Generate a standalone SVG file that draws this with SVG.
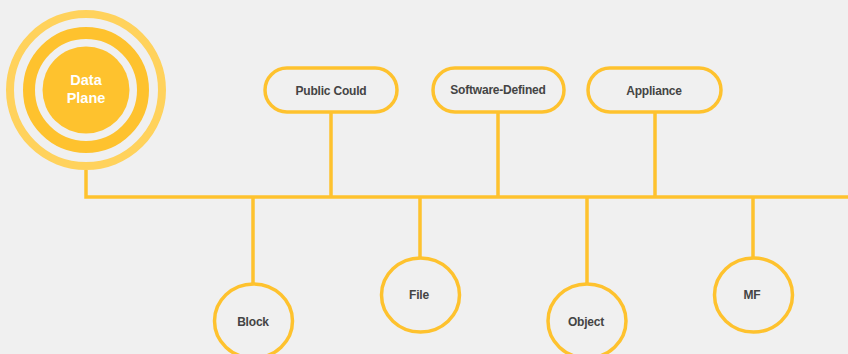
<svg xmlns="http://www.w3.org/2000/svg" width="848" height="354" viewBox="0 0 848 354">
<style>
.ln{stroke:#FEC22E;stroke-width:3.5;fill:none}
.pill{fill:#F0F0F0;stroke:#FEC22E;stroke-width:3.5}
.t{font-family:"Liberation Sans",Arial,sans-serif;font-size:12px;font-weight:700;fill:#444444;text-anchor:middle;letter-spacing:-0.2px}
.w{font-family:"Liberation Sans",Arial,sans-serif;font-size:14.5px;font-weight:700;fill:#FFFFFF;text-anchor:middle}
</style>
<rect width="848" height="354" fill="#F0F0F0"/>
<g id="connectors">
<path class="ln" d="M86 170 V197 H848"/>
<path class="ln" d="M331 112 V197"/>
<path class="ln" d="M498 112 V197"/>
<path class="ln" d="M655 112 V197"/>
<path class="ln" d="M253 197 V283"/>
<path class="ln" d="M420 197 V257"/>
<path class="ln" d="M587 197 V283"/>
<path class="ln" d="M753 197 V257"/>
</g>
<g id="data-plane">
<circle cx="86" cy="90" r="76" fill="none" stroke="#FFD25C" stroke-width="8"/>
<circle cx="86" cy="90" r="57" fill="none" stroke="#FEC22E" stroke-width="12"/>
<circle cx="86" cy="90" r="43.5" fill="#FEC22E"/>
<text class="w" x="86" y="85">Data</text>
<text class="w" x="86" y="103">Plane</text>
</g>
<g id="public-could">
<rect class="pill" x="265" y="68" width="132" height="44" rx="22"/>
<text class="t" x="331" y="95">Public Could</text>
</g>
<g id="software-defined">
<rect class="pill" x="433" y="68" width="131" height="44" rx="22"/>
<text class="t" x="498" y="94">Software-Defined</text>
</g>
<g id="appliance">
<rect class="pill" x="588" y="68" width="133" height="44" rx="22"/>
<text class="t" x="654" y="95">Appliance</text>
</g>
<g id="block">
<ellipse class="pill" cx="253.5" cy="321" rx="39" ry="37"/>
<text class="t" x="253" y="326">Block</text>
</g>
<g id="file">
<ellipse class="pill" cx="420.5" cy="295" rx="39" ry="37"/>
<text class="t" x="419" y="299">File</text>
</g>
<g id="object">
<ellipse class="pill" cx="587" cy="321" rx="39" ry="37"/>
<text class="t" x="586" y="326">Object</text>
</g>
<g id="mf">
<ellipse class="pill" cx="753.5" cy="295" rx="39" ry="37"/>
<text class="t" x="752" y="299">MF</text>
</g>
</svg>
